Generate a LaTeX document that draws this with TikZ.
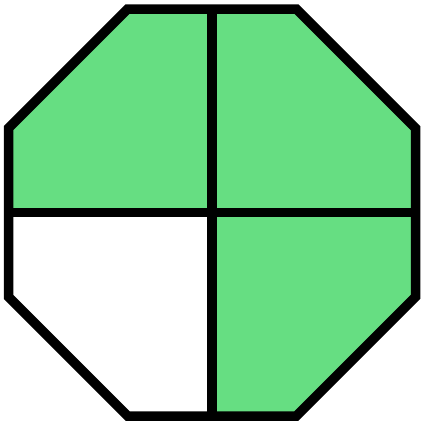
\documentclass[tikz,border=0pt]{standalone}
\usepackage{tikz}
\definecolor{leaf}{HTML}{66DE82}
\definecolor{ink}{HTML}{000000}

\begin{document}
\begin{tikzpicture}[
  x=1pt,
  y=-1pt,
  outline/.style={draw=ink,line width=9.5pt,miter limit=10,line join=miter},
  part/.style={fill=leaf},
  blank/.style={fill=white}
]
  \useasboundingbox (0,0) rectangle (422,426);
  % octagon corners
  \coordinate (o-1) at (127.7,9);
  \coordinate (o-2) at (296.3,9);
  \coordinate (o-3) at (415.5,128.2);
  \coordinate (o-4) at (415.5,296.8);
  \coordinate (o-5) at (296.3,416);
  \coordinate (o-6) at (127.7,416);
  \coordinate (o-7) at (8.5,296.8);
  \coordinate (o-8) at (8.5,128.2);
  % cross
  \coordinate (top) at (212,9);
  \coordinate (bottom) at (212,416);
  \coordinate (left) at (8.5,212.5);
  \coordinate (right) at (415.5,212.5);
  \coordinate (mid) at (212,212.5);

  \path[part] (o-1) -- (o-2) -- (o-3) -- (o-4) -- (o-5) -- (o-6)
    -- (o-7) -- (o-8) -- cycle;
  \path[blank] (mid) -- (bottom) -- (o-6) -- (o-7) -- (left) -- cycle;

  \draw[outline] (top) -- (bottom);
  \draw[outline] (left) -- (right);
  \draw[outline] (o-1) -- (o-2) -- (o-3) -- (o-4) -- (o-5) -- (o-6)
    -- (o-7) -- (o-8) -- cycle;
\end{tikzpicture}
\end{document}
